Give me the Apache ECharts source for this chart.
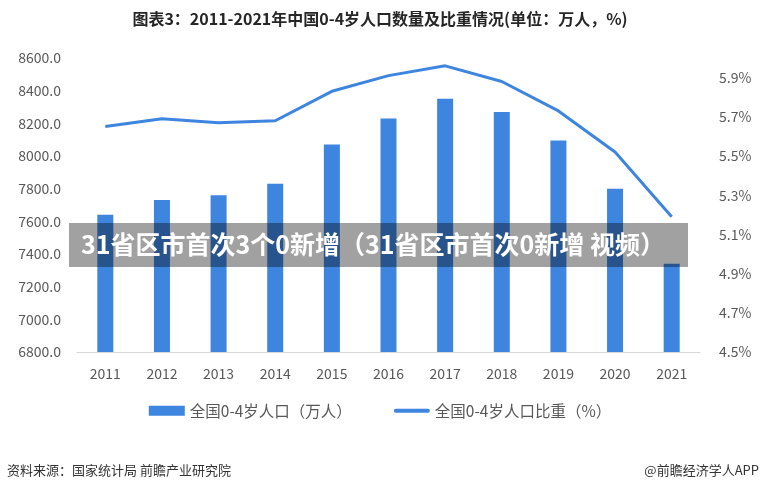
<!DOCTYPE html>
<html><head><meta charset="utf-8">
<script src="https://cdn.jsdelivr.net/npm/echarts@6/dist/echarts.min.js"></script>
<style>html,body{margin:0;padding:0;background:#fff}#c{width:760px;height:490px}</style>
</head><body><div id="c"></div>
<script>
const categories = ['2011','2012','2013','2014','2015','2016','2017','2018','2019','2020','2021'];
const population = [7640, 7730, 7760, 7830, 8070, 8230, 8350, 8270, 8095, 7800, 7340];
const share = [5.65, 5.69, 5.67, 5.68, 5.83, 5.91, 5.96, 5.88, 5.73, 5.52, 5.19];
const seriesNames = ['全国0-4岁人口（万人）', '全国0-4岁人口比重（%）'];
const titleText = '图表3：2011-2021年中国0-4岁人口数量及比重情况(单位：万人，%)';
const sourceText = '资料来源：国家统计局 前瞻产业研究院';
const brandText = '@前瞻经济学人APP';
const bannerText = '31省区市首次3个0新增（31省区市首次0新增 视频）';

const FONT = '"Noto Sans CJK SC", "Noto Sans", sans-serif';
const BLUE = '#3E85E0';
const chart = echarts.init(document.getElementById('c'), null, {renderer: 'canvas'});
chart.setOption({
  animation: false,
  textStyle: {fontFamily: FONT},
  title: {
    text: titleText, left: 380, textAlign: 'center', top: 11, padding: 0,
    textStyle: {fontSize: 16, fontWeight: 'bold', color: '#262626', fontFamily: FONT}
  },
  grid: {left: 77, right: 60, top: 58, bottom: 138},
  legend: {
    top: 403, left: 'center', itemWidth: 36, itemHeight: 10, itemGap: 42, padding: 0,
    textStyle: {fontSize: 15.5, color: '#595959', fontFamily: FONT},
    data: [
      {name: seriesNames[0], icon: 'rect'},
      {name: seriesNames[1], icon: 'path://M2,0 H34 A2,2 0 0 1 34,4 H2 A2,2 0 0 1 2,0 Z'}
    ]
  },
  xAxis: {
    type: 'category', data: categories,
    axisLine: {lineStyle: {color: '#d9d9d9'}},
    axisTick: {show: false},
    axisLabel: {fontSize: 14, color: '#595959', margin: 15}
  },
  yAxis: [{
    type: 'value', min: 6800, max: 8600, interval: 200,
    splitLine: {show: false}, axisLine: {show: false}, axisTick: {show: false},
    axisLabel: {fontSize: 14, color: '#595959', formatter: v => v.toFixed(1), margin: 16}
  }, {
    type: 'value', min: 4.5, max: 6.0, interval: 0.2,
    splitLine: {show: false}, axisLine: {show: false}, axisTick: {show: false},
    axisLabel: {fontSize: 14, color: '#595959', formatter: v => v.toFixed(1) + '%', margin: 19, showMaxLabel: false}
  }],
  series: [{
    name: seriesNames[0], type: 'bar', data: population, barWidth: 16,
    itemStyle: {color: BLUE}
  }, {
    name: seriesNames[1], type: 'line', yAxisIndex: 1, data: share,
    symbol: 'none', lineStyle: {color: BLUE, width: 3}, itemStyle: {color: BLUE}
  }],
  graphic: [
    {type: 'text', x: 7, y: 470, style: {text: sourceText, font: '13px ' + FONT, fill: '#333', textVerticalAlign: 'middle'}},
    {type: 'text', x: 759, y: 470, style: {text: brandText, font: '13px ' + FONT, fill: '#333', textAlign: 'right', textVerticalAlign: 'middle'}},
    {type: 'rect', shape: {x: 69, y: 223, width: 619, height: 44}, style: {fill: 'rgba(0,0,0,0.37)'}, z: 100},
    {type: 'text', x: 81, y: 244, z: 101, style: {text: bannerText, font: 'bold 25px ' + FONT, fill: '#fff', textVerticalAlign: 'middle'}}
  ]
});
</script></body></html>
